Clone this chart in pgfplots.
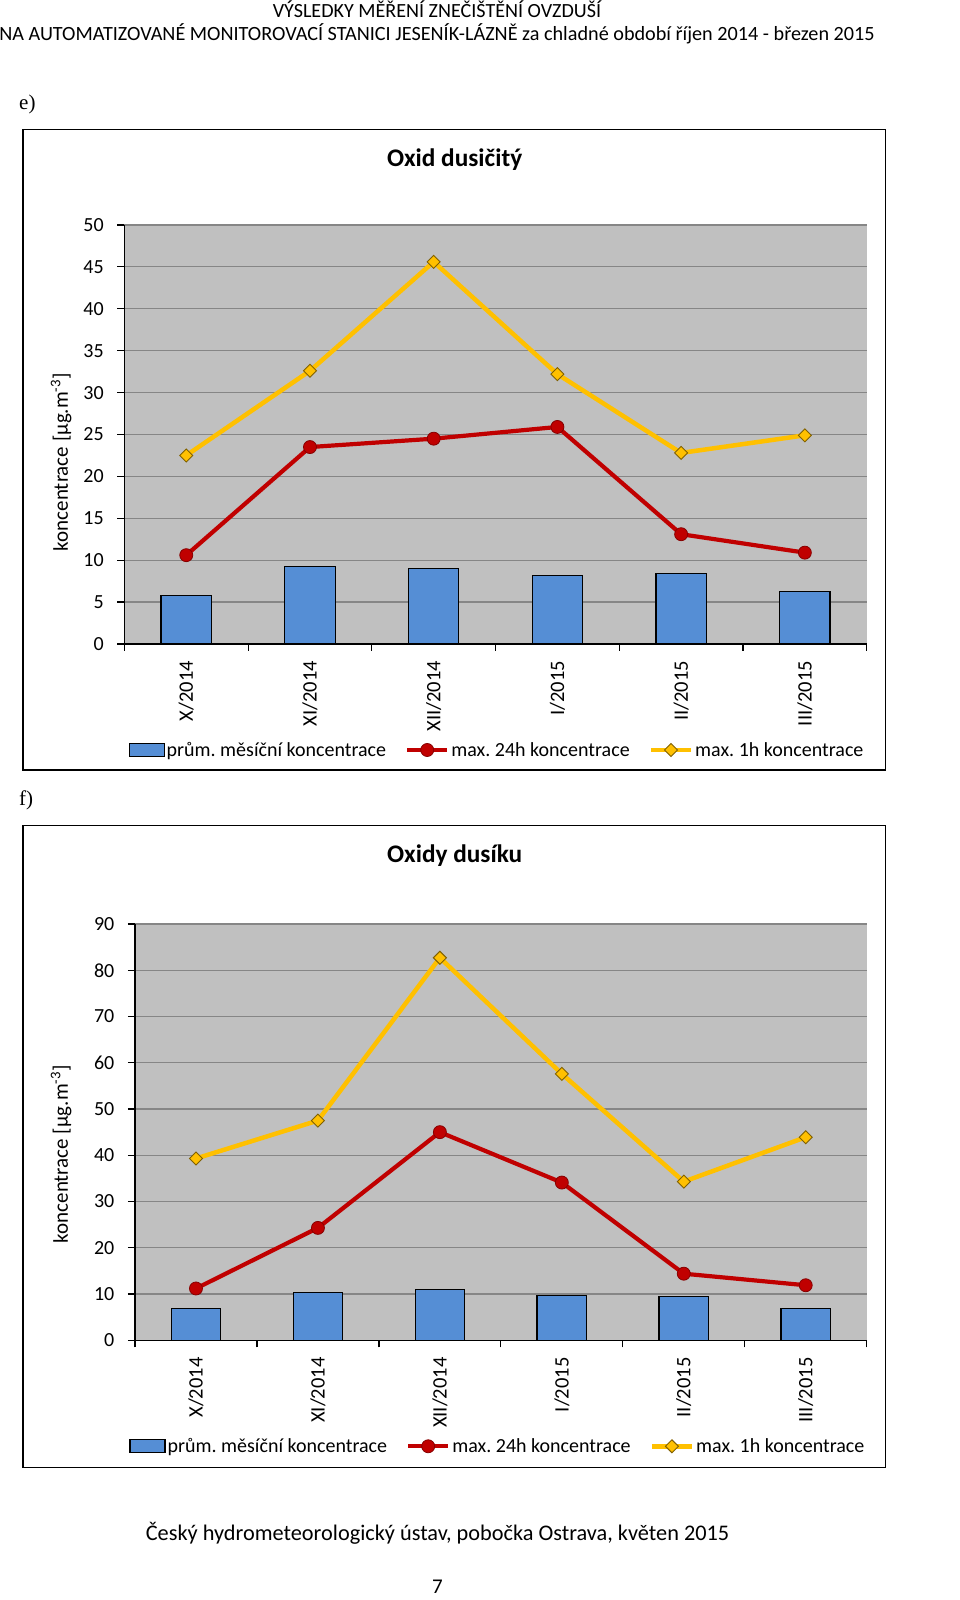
\documentclass[border=0pt]{standalone}
\usepackage{fontspec}
\setmainfont{Carlito}
\newfontfamily\timesfont{Liberation Serif}
\usepackage{pgfplots}
\pgfplotsset{compat=1.18}
\definecolor{bggray}{HTML}{C0C0C0}
\definecolor{gridgray}{HTML}{868686}
\definecolor{barblue}{HTML}{558ED5}
\definecolor{lred}{HTML}{C00000}
\definecolor{lyellow}{HTML}{FFC000}
\definecolor{dyellow}{HTML}{806000}
\newcommand{\fs}[1]{\fontsize{#1}{#1}\selectfont}
\frenchspacing
\pgfplotsset{
  common/.style={
    scale only axis,
    axis background/.style={fill=bggray},
    xmin=-0.5, xmax=5.5, ymin=0,
    axis x line*=bottom, axis y line*=left,
    axis line style={black, line width=1.3pt, -},
    xtick={-0.5,0.5,1.5,2.5,3.5,4.5,5.5}, xticklabels={},
    extra x ticks={0,1,2,3,4,5},
    extra x tick labels={X/2014,XI/2014,XII/2014,I/2015,II/2015,III/2015},
    extra x tick style={major tick length=0pt, xmajorgrids=false},
    xticklabel style={rotate=90, anchor=east, inner xsep=17pt, font=\fs{20.5}},
    tick align=outside, major tick length=7pt,
    tick style={black, line width=1.2pt},
    ymajorgrids, grid style={gridgray, line width=1.2pt},
    yticklabel style={font=\fs{20}, inner xsep=13.5pt},
    /pgf/number format/assume math mode=true,
    ylabel style={font=\fs{21}, anchor=center},
    legend columns=3,
    legend style={draw=none, fill=none, inner sep=0pt, font=\frenchspacing\fs{20}, anchor=west,
      /tikz/every odd column/.append style={column sep=0pt},
      /tikz/every even column/.append style={column sep=17pt}},
    clip=false,
  },
  barleg/.style={legend image code/.code={\draw[##1] (0pt,-6.5pt) rectangle (35pt,6.5pt);}},
  lineleg/.style={legend image code/.code={\draw[mark repeat=2,mark phase=2,##1] plot coordinates {(0pt,0pt) (20pt,0pt) (40pt,0pt)};}},
  redline/.style={color=lred, line width=4.2pt, mark=*, mark size=6.5pt, mark options={fill=lred, draw=lred!70!black, line width=0.8pt}, lineleg},
  yelline/.style={color=lyellow, line width=4.5pt, mark=square*, mark size=4.6pt, mark options={rotate=45, fill=lyellow, draw=dyellow, line width=0.9pt}, lineleg},
  barplot/.style={ybar, bar width=50.4pt, bar shift=0pt, fill=barblue, draw=black, line width=1.2pt, barleg},
}
\begin{document}
\begin{tikzpicture}[x=1pt,y=1pt]
\useasboundingbox (0,0) rectangle (960,1600);
\fill[white] (0,0) rectangle (960,1600);
% header
\node[anchor=base, font=\fs{20.1}] at (437,1582.5) {VÝSLEDKY MĚŘENÍ ZNEČIŠTĚNÍ OVZDUŠÍ};
\node[anchor=base, font=\fs{20.2}] at (437,1559.3) {NA AUTOMATIZOVANÉ MONITOROVACÍ STANICI JESENÍK-LÁZNĚ za chladné období říjen 2014 - březen 2015};
\node[anchor=base west, inner sep=0pt, font=\timesfont\fs{21}] at (19,1490) {e)};
\node[anchor=base west, inner sep=0pt, font=\timesfont\fs{21}] at (19,794) {f)};
% frames
\draw[black, line width=1.5pt] (23,830) rectangle (885.7,1470.5);
\draw[black, line width=1.5pt] (23,132.7) rectangle (885.7,774.3);
% titles
\node[anchor=base, font=\bfseries\fs{25.3}] at (454.7,1433.3) {Oxid dusičitý};
\node[anchor=base, font=\bfseries\fs{25.3}] at (454.7,737.2) {Oxidy dusíku};
% footer
\node[anchor=base, font=\fs{22.3}] at (437.5,59) {Český hydrometeorologický ústav, pobočka Ostrava, květen 2015};
\node[anchor=base, font=\fs{21}] at (437.5,6) {7};

\begin{axis}[common,
  at={(124.4pt,956pt)}, anchor=south west,
  width=742.3pt, height=419pt,
  ymax=50, ytick={0,5,...,50},
  ylabel={koncentrace [µg.m\textsuperscript{-3}]},
  ylabel style={at={(axis description cs:-0.0853,0.434)}},
  legend style={at={(axis description cs:0.0053,-0.253)}},
]
\addplot[barplot] coordinates {(0,5.8) (1,9.2) (2,9.05) (3,8.2) (4,8.4) (5,6.3)};
\addlegendentry{prům. měsíční koncentrace}
\addplot[redline] coordinates {(0,10.6) (1,23.5) (2,24.5) (3,25.9) (4,13.1) (5,10.9)};
\addlegendentry{max. 24h koncentrace}
\addplot[yelline] coordinates {(0,22.5) (1,32.6) (2,45.6) (3,32.2) (4,22.8) (5,24.9)};
\addlegendentry{max. 1h koncentrace}
\end{axis}

\begin{axis}[common,
  at={(135pt,259.7pt)}, anchor=south west,
  width=731.7pt, height=416.3pt,
  ymax=90, ytick={0,10,...,90},
  ylabel={koncentrace [µg.m\textsuperscript{-3}]},
  ylabel style={at={(axis description cs:-0.1008,0.447)}},
  legend style={at={(axis description cs:-0.0078,-0.2546)}},
]
\addplot[barplot, bar width=49.5pt] coordinates {(0,6.8) (1,10.3) (2,10.9) (3,9.7) (4,9.4) (5,6.8)};
\addlegendentry{prům. měsíční koncentrace}
\addplot[redline] coordinates {(0,11.2) (1,24.3) (2,45.0) (3,34.1) (4,14.4) (5,11.9)};
\addlegendentry{max. 24h koncentrace}
\addplot[yelline] coordinates {(0,39.3) (1,47.5) (2,82.7) (3,57.6) (4,34.3) (5,43.9)};
\addlegendentry{max. 1h koncentrace}
\end{axis}
\end{tikzpicture}
\end{document}
